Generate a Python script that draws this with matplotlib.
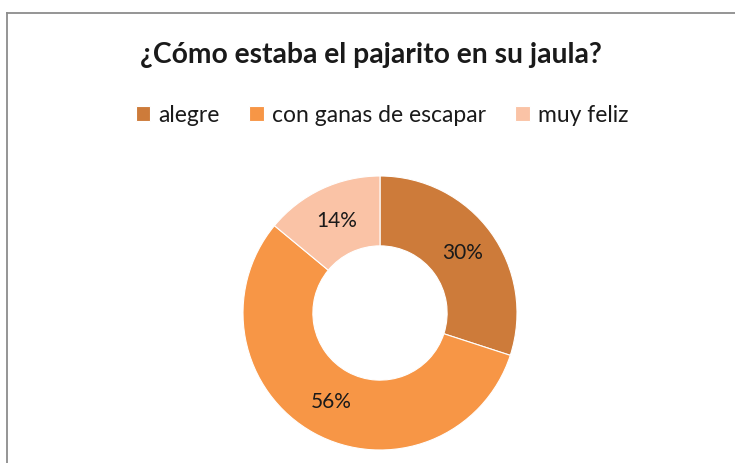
import matplotlib
matplotlib.use("Agg")
import matplotlib.pyplot as plt
from matplotlib.lines import Line2D

categories = ["alegre", "con ganas de escapar", "muy feliz"]
values = [30, 56, 14]
colors = ["#CD7B3A", "#F79646", "#FAC3A6"]
title = "¿Cómo estaba el pajarito en su jaula?"

plt.rcParams['font.family'] = ['Lato', 'DejaVu Sans']

W, H = 735, 463
fig = plt.figure(figsize=(W / 100, H / 100), dpi=100)
fig.patch.set_facecolor("white")

# border (left and top only visible)
fig.add_artist(Line2D([7 / W, 7 / W], [0, 1 - 12.5 / H], transform=fig.transFigure,
                      color="#8c8c8c", lw=1.3))
fig.add_artist(Line2D([7 / W, 1], [1 - 12.5 / H, 1 - 12.5 / H], transform=fig.transFigure,
                      color="#8c8c8c", lw=1.3))

cx, cy, r = 380, 313, 137
ax = fig.add_axes([(cx - r) / W, 1 - (cy + r) / H, 2 * r / W, 2 * r / H])
wedges, texts, autotexts = ax.pie(
    values, colors=colors, startangle=90, counterclock=False, radius=1,
    autopct=lambda p: f"{p:.0f}%", pctdistance=0.745,
    wedgeprops=dict(width=0.51, edgecolor="white", linewidth=0.8),
    textprops=dict(fontsize=15, color="#1a1a1a"))
ax.set_xlim(-1, 1)
ax.set_ylim(-1, 1)
ax.set_axis_off()

fig.text(371 / W, 1 - 55 / H, title, ha="center", va="center",
         fontsize=20.3, fontweight="bold", color="#1a1a1a")

leg = fig.legend(wedges, categories, loc="center", ncol=3,
                 bbox_to_anchor=(382 / W, 1 - 115 / H), frameon=False,
                 fontsize=16.5, handlelength=0.62, handleheight=0.62,
                 handletextpad=0.35, columnspacing=1.3, borderpad=0)
for t in leg.get_texts():
    t.set_color("#1a1a1a")

fig.savefig("out.png", dpi=100)
